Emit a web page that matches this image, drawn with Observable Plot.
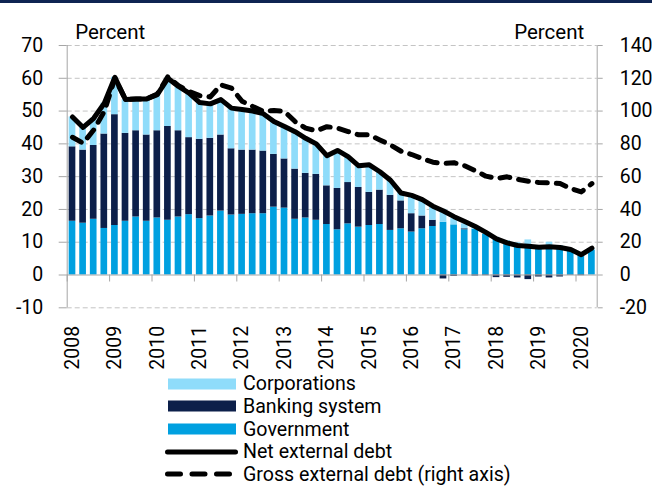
<!DOCTYPE html>
<html><head><meta charset="utf-8">
<script src="https://cdn.jsdelivr.net/npm/d3@7"></script>
<script src="https://cdn.jsdelivr.net/npm/@observablehq/plot@0.6"></script>
<style>
body{margin:0;background:#fff;font-family:Roboto,sans-serif;}
#wrap{position:relative;width:652px;height:486px;overflow:hidden;background:#fff;}
#topbar{height:3px;background:#0e2452;}
#chart svg{display:block;}
#legend{position:absolute;left:0;top:372px;width:652px;height:114px;}
.row{position:absolute;left:165px;height:22px;display:flex;align-items:center;font-size:19.6px;color:#000;white-space:nowrap;}
.row svg{display:block;margin-right:3px;}
</style></head><body>
<div id="wrap"><div id="topbar"></div><div id="chart"></div><div id="legend"></div></div>
<script>
const years = ["2008","2009","2010","2011","2012","2013","2014","2015","2016","2017","2018","2019","2020"];
const quarters = years.flatMap(y => [y + "Q1", y + "Q2", y + "Q3", y + "Q4"]).slice(0, 50);

const government = [16.4,15.8,17.0,14.2,15.1,16.4,17.7,16.4,17.4,16.7,
  17.7,18.4,17.2,18.0,19.5,18.3,18.5,18.7,18.7,20.7,
  20.4,17.0,17.4,16.7,15.4,13.8,15.6,14.6,15.1,15.4,
  13.6,14.1,13.1,14.1,14.8,16.1,15.3,13.8,13.9,12.4,
  11.0,10.0,9.0,8.5,8.3,8.5,8.3,7.7,6.4,7.5];
const banking = [22.7,22.3,22.5,28.8,33.8,26.8,26.3,26.3,26.6,28.6,
  26.3,23.5,24.2,23.7,23.2,20.2,19.6,19.4,19.1,16.1,
  15.0,15.3,13.6,14.0,11.8,12.6,12.6,12.1,10.1,10.5,
  10.7,8.5,5.6,3.9,1.9,-1.2,-0.4,0.3,-0.3,-0.2,
  -0.8,-0.7,-0.9,-1.4,-0.6,-0.9,-0.6,-0.1,-0.2,0];
const corporations = [9.1,6.9,8.3,9.4,11.4,10.3,9.7,11.0,11.0,14.7,
  13.5,13.6,11.0,10.3,10.8,12.5,12.4,11.9,11.4,10.0,
  9.9,11.4,10.7,9.3,9.2,11.6,7.9,6.6,8.4,5.6,
  4.6,2.4,5.1,4.8,4.0,3.9,1.9,1.5,0.7,0.7,
  0.5,0.5,0.8,2.2,0.7,1.5,0.7,0.3,0.1,0.5];
const netDebt = [48.2,45.0,47.8,52.4,60.3,53.5,53.7,53.7,55.0,60.0,
  57.5,55.5,52.6,52.2,53.5,50.9,50.5,50.0,49.2,46.8,
  45.3,43.7,41.7,40.0,36.4,38.0,36.1,33.3,33.6,31.5,
  28.9,25.0,24.3,23.0,21.0,19.5,17.8,16.3,14.8,13.0,
  11.0,9.8,9.0,8.8,8.5,8.6,8.4,7.8,6.2,8.2];
const grossDebt = [84,80.4,88.5,99.8,120,107,107.4,107.4,110.4,121,
  115.5,112,109.4,108.6,116,114,106,102.8,99.8,100.4,
  99.8,93.6,89.6,88,90.5,89.6,87.5,85.5,85.5,82.4,
  79.3,75.5,73.5,71,68.8,68,68.5,66.6,63.6,60.3,
  58.9,59.9,58.3,57.2,56.4,56.2,55.8,52.8,50.7,55.8];

const seriesNames = ["Corporations", "Banking system", "Government"];
const seriesColors = ["#8fdcfa", "#0c1f4a", "#00a0e0"];
const leftTicks = [-10, 0, 10, 20, 30, 40, 50, 60, 70];
const rightTicks = [-20, 0, 20, 40, 60, 80, 100, 120, 140];
const lineNames = ["Net external debt", "Gross external debt (right axis)"];
const axisTitle = "Percent";

// tables built from the arrays
const bars = [];
quarters.forEach((q, i) => {
  bars.push({q, series: "Government", value: government[i]});
  bars.push({q, series: "Banking system", value: banking[i]});
  bars.push({q, series: "Corporations", value: corporations[i]});
});
const lines = quarters.map((q, i) => ({q, net: netDebt[i], gross: grossDebt[i]}));
const yearStarts = years.map(y => y + "Q1");

const W = 652, H = 369, mL = 66.7, mR = 55.3, mT = 42, mB = 64.7;
const step = (W - mL - mR) / quarters.length;
const pxPerUnit = (H - mT - mB) / 80;
const axisGray = "#a6a6a6";

const chart = Plot.plot({
  width: W, height: H,
  marginLeft: mL, marginRight: mR, marginTop: mT, marginBottom: mB,
  style: {fontFamily: "Roboto, sans-serif", fontSize: "19.5px", color: "#000", background: "#fff", overflow: "visible"},
  x: {type: "band", domain: quarters, paddingInner: 0.37, paddingOuter: 0.185, round: false, axis: null},
  y: {domain: [-10, 70], axis: null},
  color: {domain: seriesNames, range: seriesColors},
  marks: [
    Plot.gridY(leftTicks.filter(d => d !== 0), {stroke: "#c4c4c4", strokeOpacity: 1, strokeDasharray: "5,3"}),
    Plot.barY(bars, {x: "q", y: "value", fill: "series"}),
    Plot.ruleY([0], {stroke: axisGray}),
    Plot.ruleX(yearStarts, {x: d => d, y1: 0, y2: -7 / pxPerUnit, dx: -step / 2, stroke: axisGray}),
    Plot.ruleX([quarters[0]], {x: d => d, dx: -step / 2, stroke: axisGray}),
    Plot.ruleX([quarters[quarters.length - 1]], {x: d => d, dx: step / 2, stroke: axisGray}),
    Plot.lineY(lines, {x: "q", y: "net", stroke: "#000", strokeWidth: 5, strokeLinejoin: "round", strokeLinecap: "round"}),
    Plot.lineY(lines, {x: "q", y: d => d.gross / 2, stroke: "#000", strokeWidth: 5, strokeDasharray: "10,9", strokeLinecap: "round", strokeLinejoin: "round"}),
    Plot.axisY(leftTicks, {anchor: "left", label: null, tickSize: 8, tickPadding: 16, stroke: axisGray, fill: "#000", tickFormat: d => String(d)}),
    Plot.axisY(leftTicks, {anchor: "right", label: null, tickSize: 5, tickPadding: 17.5, stroke: axisGray, fill: "#000", tickFormat: (d, i) => String(rightTicks[i])}),
    Plot.axisX(yearStarts, {anchor: "bottom", label: null, tickSize: 0, tickPadding: 18, tickRotate: -90, fill: "#000", tickFormat: d => d.slice(0, 4)}),
    Plot.text([axisTitle], {frameAnchor: "top-left", textAnchor: "start", dx: 8, dy: -21, fill: "#000", fontSize: 20.5}),
    Plot.text([axisTitle], {frameAnchor: "top-right", textAnchor: "end", dx: -13, dy: -21, fill: "#000", fontSize: 20.5})
  ]
});
document.getElementById("chart").appendChild(chart);

// legend
const legend = document.getElementById("legend");
const rowCenters = [11.7, 34, 57, 79.5, 102];
const items = [
  {label: seriesNames[0], kind: "rect", color: seriesColors[0]},
  {label: seriesNames[1], kind: "rect", color: seriesColors[1]},
  {label: seriesNames[2], kind: "rect", color: seriesColors[2]},
  {label: lineNames[0], kind: "line"},
  {label: lineNames[1], kind: "dash"}
];
const ns = "http://www.w3.org/2000/svg";
items.forEach((it, k) => {
  const row = document.createElement("div");
  row.className = "row";
  row.style.top = (rowCenters[k] - 11) + "px";
  const s = document.createElementNS(ns, "svg");
  s.setAttribute("width", 75); s.setAttribute("height", 22);
  if (it.kind === "rect") {
    const r = document.createElementNS(ns, "rect");
    r.setAttribute("x", 3); r.setAttribute("y", 5.5); r.setAttribute("width", 68); r.setAttribute("height", 11);
    r.setAttribute("fill", it.color);
    s.appendChild(r);
  } else {
    const l = document.createElementNS(ns, "line");
    l.setAttribute("x1", 2.5); l.setAttribute("x2", it.kind === "line" ? 70.5 : 67.5);
    l.setAttribute("y1", 11); l.setAttribute("y2", 11);
    l.setAttribute("stroke", "#000"); l.setAttribute("stroke-width", 5); l.setAttribute("stroke-linecap", "round");
    if (it.kind === "dash") l.setAttribute("stroke-dasharray", "13,11.5");
    s.appendChild(l);
  }
  row.appendChild(s);
  const t = document.createElement("span");
  t.textContent = it.label;
  row.appendChild(t);
  legend.appendChild(row);
});
</script>
</body></html>
